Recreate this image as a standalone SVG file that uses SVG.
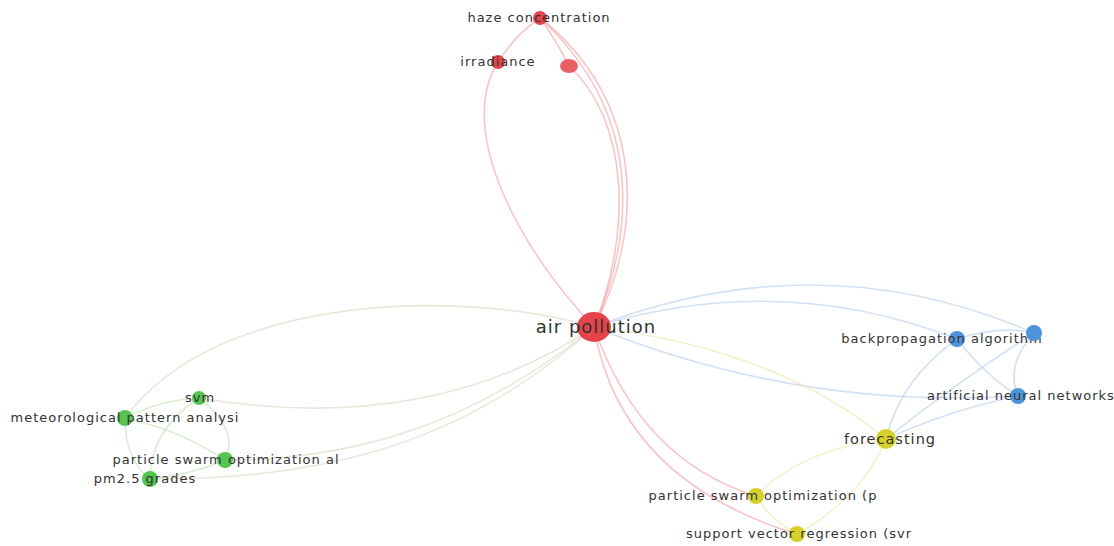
<svg xmlns="http://www.w3.org/2000/svg" width="1114" height="546" viewBox="0 0 1114 546">
<style>
.e{fill:none;stroke-width:1.6;stroke-opacity:0.5}
.r{stroke:#f28b8f}
.g{stroke:#b5dca8}
.b{stroke:#aac4ea}
.y{stroke:#e6e49a}
.gr{stroke:#d8d0b8}
.t{font-family:"DejaVu Sans",sans-serif;font-size:13px;letter-spacing:1px;fill:#333}
.nr{fill:#e5444b}
.ng{fill:#55c451}
.nb{fill:#4c93dc}
.ny{fill:#d6d12a}
</style>
<rect width="1114" height="546" fill="#fff"/>
<g id="connectors">
<path class="e r" d="M594,327 C520,250 455,130 498,62"/>
<path class="e r" d="M594,327 C645,230 645,100 540,18"/>
<path class="e r" d="M594,327 C638,225 640,110 540,18"/>
<path class="e r" d="M594,327 C633,230 628,120 569,66"/>
<path class="e r" d="M540,18 Q515,35 498,62"/>
<path class="e r" d="M540,18 Q556,40 569,66"/>
<path class="e gr" d="M594,327 C470,290 220,290 125,418"/>
<path class="e gr" d="M594,327 C470,410 330,420 199,398"/>
<path class="e gr" d="M594,327 C480,420 360,460 225,460"/>
<path class="e gr" d="M594,327 C470,440 330,480 150,479"/>
<path class="e g" d="M125,418 Q160,400 199,398"/>
<path class="e g" d="M125,418 Q180,430 225,460"/>
<path class="e g" d="M125,418 Q125,460 150,479"/>
<path class="e g" d="M199,398 Q240,430 225,460"/>
<path class="e g" d="M199,398 Q150,430 150,479"/>
<path class="e g" d="M225,460 Q190,475 150,479"/>
<path class="e b" d="M594,327 Q780,270 957,339"/>
<path class="e b" d="M594,327 Q820,240 1034,333"/>
<path class="e b" d="M594,327 Q800,410 1018,396"/>
<path class="e b" d="M957,339 Q1000,325 1034,333"/>
<path class="e b" d="M957,339 Q985,375 1018,396"/>
<path class="e b" d="M1034,333 Q1005,365 1018,396"/>
<path class="e b" d="M886,439 Q900,380 957,339"/>
<path class="e b" d="M886,439 Q960,380 1034,333"/>
<path class="e b" d="M886,439 Q950,410 1018,396"/>
<path class="e y" d="M594,327 Q780,350 886,439"/>
<path class="e r" d="M594,327 Q640,460 756,496"/>
<path class="e r" d="M594,327 Q620,480 797,534"/>
<path class="e y" d="M886,439 Q800,450 756,496"/>
<path class="e y" d="M886,439 Q860,500 797,534"/>
<path class="e y" d="M756,496 Q770,520 797,534"/>
</g>
<g id="n-haze"><circle class="nr" cx="540" cy="18" r="7"/><text class="t" x="539" y="22" text-anchor="middle">haze concentration</text></g>
<g id="n-irradiance"><circle class="nr" cx="498" cy="62" r="7"/><text class="t" x="498" y="66" text-anchor="middle">irradiance</text></g>
<g id="n-red"><ellipse class="nr" cx="569" cy="66" rx="9" ry="7" opacity="0.85"/></g>
<g id="n-airpollution"><ellipse class="nr" cx="594" cy="327" rx="17" ry="15"/><text x="596" y="333" text-anchor="middle" style="font-family:'DejaVu Sans',sans-serif;font-size:18px;letter-spacing:1px;fill:#333">air pollution</text></g>
<g id="n-backprop"><circle class="nb" cx="957" cy="339" r="8"/><text class="t" x="942" y="343" text-anchor="middle">backpropagation algorithm</text></g>
<g id="n-blue"><circle class="nb" cx="1034" cy="333" r="8"/></g>
<g id="n-ann"><circle class="nb" cx="1018" cy="396" r="8"/><text class="t" x="1021" y="400" text-anchor="middle">artificial neural networks</text></g>
<g id="n-forecasting"><circle class="ny" cx="886" cy="439" r="10"/><text x="890" y="444" text-anchor="middle" style="font-family:'DejaVu Sans',sans-serif;font-size:14.5px;letter-spacing:1px;fill:#333">forecasting</text></g>
<g id="n-psop"><circle class="ny" cx="756" cy="496" r="8"/><text class="t" x="763" y="500" text-anchor="middle">particle swarm optimization (p</text></g>
<g id="n-svr"><circle class="ny" cx="797" cy="534" r="8"/><text class="t" x="799" y="538" text-anchor="middle">support vector regression (svr</text></g>
<g id="n-svm"><circle class="ng" cx="199" cy="398" r="7"/><text class="t" x="200" y="402" text-anchor="middle">svm</text></g>
<g id="n-meteo"><circle class="ng" cx="125" cy="418" r="8"/><text class="t" x="125" y="422" text-anchor="middle">meteorological pattern analysi</text></g>
<g id="n-psoal"><circle class="ng" cx="225" cy="460" r="8"/><text class="t" x="226" y="464" text-anchor="middle">particle swarm optimization al</text></g>
<g id="n-pm25"><circle class="ng" cx="150" cy="479" r="8"/><text class="t" x="145" y="483" text-anchor="middle">pm2.5 grades</text></g>
</svg>
